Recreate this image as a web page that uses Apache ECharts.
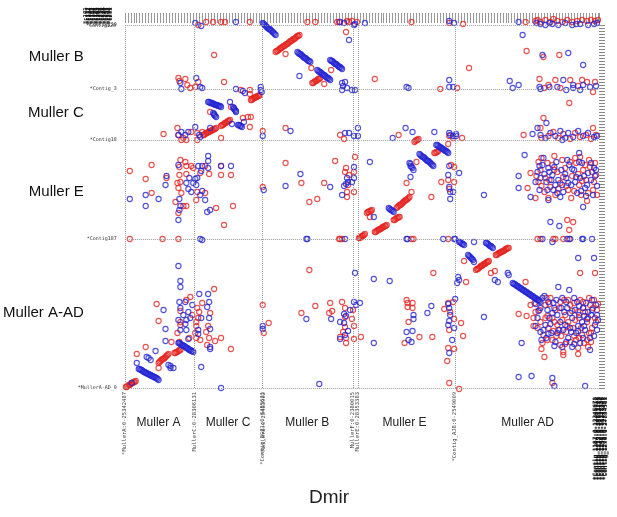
<!DOCTYPE html>
<html><head><meta charset="utf-8">
<script src="https://cdn.jsdelivr.net/npm/echarts@6/dist/echarts.min.js"></script>
<style>html,body{margin:0;padding:0;background:#fff}#c{width:617px;height:517px}</style>
</head><body><div id="c"></div>
<script>
// Muller element boundaries on the Dmir (x) axis and Dmel (y) axis, in plot units
const xBoundaries = [0, 70, 139, 230, 235, 333];
const yBoundaries = [0, 149, 248, 299, 363];
const xTickValues = [0, 70, 138.6, 139.4, 229.4, 235, 332.6, 333.4];
const xTickLabels = ['*MullerA:0-25342487','MullerC:0-28306131','*Contig_BGZ1:0-3455621','*MullerB:0-25483902','MullerF:0-2380015','MullerE:0-28353383','*Contig_AJ8:0-2549009','MullerAD:0-38562419'];
const yTickValues = [0, 149, 248, 299, 363];
const yTickLabels = ['*MullerA-AD_0','*Contig187','*Contig18','*Contig_3','*Contig120'];
const colNames = ['Muller A','Muller C','Muller B','Muller E','Muller AD'];
const colCenters = [34, 104, 184, 282, 406];
const rowNames = ['Muller A-AD','Muller E','Muller C','Muller B'];
const rowCenters = [75, 196, 275, 331];
const topLeftLabels = ['*c101','*c117','*c122','*c134','*c145','*c152','*c168','*c171','*c189','*c193','*c204','*c216','*c228','*c231','*c240','*c247','*c255','*c262','*c270','*c281'];
const bottomRightLabels = ['*Contig_1187:0-12345678','*Contig_1204:0-23456712','*Contig_1219:0-34561278','*Contig_1233:0-45612783','*Contig_1248:0-56127834','*Contig_1256:0-61278345','*Contig_1271:0-12783456','*Contig_1290:0-27834561'];

// red = forward-strand matches, blue = reverse-strand matches  [Dmir position, Dmel position]
const redScattered = [
[74,363],[82,366],[89,366],[97,366],[101,366],[126,366],[184,366],[192,366],[214,366],[216,366],[224,367],[226,366],[229,367],[234,366],[289,366],[327,365],[341,364],[404,366],[414,367],[416,368],[419,366],[424,368],[429,366],[432,369],[436,367],[441,366],[446,368],[451,366],[456,367],[461,368],[466,367],[470,368],[474,367],[477,368],
[162,334],[188,320],[208,318],[201,304],[223,356],[90,333],[252,309],[347,320],[405,337],[422,331],[438,333],
[54,310],[55,307],[61,309],[63,303],[74,306],[71,301],[66,300],[100,306],[117,298],[126,298],[132,291],[318,299],[335,300],[418,309],[427,303],[434,308],[449,308],[461,308],[466,306],[472,296],[474,306],[448,285],[423,300],[439,300],[457,302],
[126,294],[107,281],[86,276],[124,271],[127,271],[119,270],[126,261],[97,250],[139,257],[162,260],
[39,254],[53,260],[54,253],[59,250],[57,248],[62,248],[67,256],[73,255],[73,248],[78,256],[217,253],[221,249],[276,253],[340,250],[327,252],[402,253],[422,270],[419,260],[472,260],[427,252],[432,256],[437,250],[442,254],[449,249],[454,255],[459,251],[465,253],[470,249],[475,253],[420,250],
[5,217],[21,209],[27,223],[27,195],[42,210],[56,228],[61,226],[55,221],[62,222],[67,222],[69,220],[81,222],[76,215],[85,214],[55,213],[62,214],[53,205],[56,206],[54,200],[57,195],[73,196],[81,195],[72,188],[51,186],[59,182],[62,182],[54,175],[92,180],[97,222],[107,213],[109,182],[100,163],[97,213],
[162,225],[178,205],[139,201],[186,186],[194,189],[201,205],[212,227],[232,231],[223,220],[222,216],[231,216],[226,213],[225,203],[224,196],[231,196],[224,191],
[247,171],[289,196],[309,191],[284,205],[294,226],[326,244],[331,250],
[329,223],[332,221],[319,206],[326,208],[327,199],[332,206],
[417,226],[409,215],[406,200],[414,190],[427,190],[446,168],[452,166],[448,158],[466,187],[419,218],[424,210],[431,223],[436,216],[439,205],[444,220],[447,198],[451,212],[455,225],[458,203],[462,218],[465,208],[469,221],[472,198],[475,213],[417,206],[423,196],[434,193],[441,228],[450,190],[460,193],[468,228],[473,206],[429,201],[454,230],
[415,212],[420,202],[426,225],[428,208],[433,218],[437,199],[442,211],[445,202],[449,226],[453,197],[457,214],[461,207],[464,223],[467,195],[471,216],[474,225],[476,193],[420,230],[433,232],[459,231],
[5,149],[38,149],[54,149],[216,149],[217,149],[219,149],[289,149],[291,149],[326,149],[416,149],[419,149],[432,149],[434,149],[442,149],[448,149],
[32,84],[34,67],[21,41],[12,34],[34,20],[55,46],[47,46],
[62,88],[66,91],[90,99],[78,85],[73,80],[56,77],[75,76],[86,75],[68,73],[56,66],[74,70],[72,66],[56,63],[72,62],[84,62],[53,55],[71,55],[82,56],[72,50],[76,48],[85,50],[91,47],[97,50],[83,43],[107,39],[65,50],
[139,83],[140,55],[145,65],[178,75],[186,118],[192,82],
[207,85],[209,77],[206,75],[219,86],[230,78],[222,80],[222,71],[229,69],[222,61],[220,56],[223,50],[217,51],[231,62],[231,49],[238,51],[223,45],
[284,88],[285,85],[290,85],[285,81],[290,80],[286,66],[297,51],[282,45],[310,51],[311,115],
[322,79],[326,85],[331,86],[328,76],[332,69],[327,58],[339,65],[341,52],[332,39],[326,40],[325,27],[327,5],[337,-1],
[342,127],[369,115],[373,117],[344,106],[404,106],[459,115],[474,115],
[397,74],[405,72],[423,31],[420,39],[442,36],[442,33],[457,34],[467,41],[457,40],[417,88],[424,83],[429,90],[434,78],[439,86],[444,73],[449,83],[454,68],[459,88],[464,76],[469,83],[474,70],[419,66],[427,60],[436,63],[445,56],[452,60],[461,53],[471,60],[476,78],[431,48],[439,43],[449,46],[466,48],[414,76],[422,53],[409,83],[457,76],[441,68],[431,70],[473,88],[466,66],[431,5],
[428,84],[447,88],[462,80],[437,58],[455,48],[470,55],[412,62],[426,72],[468,90],[451,77],
[413,85],[418,78],[425,90],[433,66],[438,80],[443,88],[447,66],[453,85],[458,70],[462,86],[467,70],[472,80],[477,84],[416,60],[424,70],[432,57],[440,52],[446,62],[453,52],[460,60],[468,55],[475,66],[421,45],[435,52],[444,44],[458,50],[463,45],[426,48],[470,46],[412,70]
];
// red collinear runs (syntenic blocks), each read as a dense row of circles
const redBlocks = [
[152,336],[153,337],[154,337],[155,338],[156,339],[157,340],[158,340],[159,341],[160,342],[161,342],[162,343],[163,344],[164,344],[165,345],[166,346],[167,347],[168,347],[169,348],[170,349],[171,349],[172,350],[173,351],[174,352],[175,352],[176,353],
[189,305],[190,305],[191,306],[192,307],[193,307],[194,308],[195,309],[196,309],[197,310],
[127,288],[128,288],[129,289],[130,290],[131,290],[132,291],[133,291],[134,292],[135,292],[136,293],
[97,262],[98,263],[99,263],[100,264],[101,265],[102,265],[103,266],[104,267],[105,267],[106,268],
[79,253],[80,253],[81,254],[82,255],[83,255],[84,256],[85,256],[86,257],[87,257],[88,258],[89,258],[90,259],[91,259],[92,260],
[236,150],[237,150],[238,151],[239,152],[240,152],[241,153],[242,154],
[252,156],[253,156],[254,157],[255,158],[256,158],[257,159],[258,159],[259,160],[260,161],[261,161],[262,162],[263,162],[264,163],
[271,168],[272,168],[273,169],[274,170],[275,170],[276,171],[277,171],
[274,180],[275,181],[276,182],[277,183],[278,183],[279,184],[280,185],[281,186],[282,187],[283,188],[284,188],[285,189],[286,190],[287,191],
[244,175],[245,176],[246,176],[247,177],[248,177],[249,178],
[312,235],[313,235],[314,236],[315,236],[316,237],[292,246],[293,247],[294,248],[295,248],[296,249],
[374,133],[375,133],[376,134],[377,135],[378,135],[379,136],[380,136],[381,137],[382,137],[383,138],[384,139],[385,139],[386,140],[387,140],
[354,118],[355,119],[356,119],[357,120],[358,121],[359,122],[360,122],[361,123],[362,124],[363,124],[364,125],[365,126],[366,126],[367,127],
[34,25],[35,26],[36,27],[37,28],[38,29],[39,29],[40,30],[41,31],[42,32],[43,33],[44,34],
[1,1],[2,1],[3,2],[4,3],[5,3],[6,4],[7,5],[8,5],[9,6],[10,6],[11,7],
[50,35],[51,35],[52,36],[53,36],[54,37],[55,38],[56,38]
];

const blueScattered = [
[71,365],[77,362],[112,366],[217,366],[221,365],[231,363],[232,364],[242,365],[327,367],[332,365],[397,366],[415,365],[419,364],[424,363],[428,365],[431,364],[437,363],[444,365],[451,363],[455,364],[459,364],[467,363],[473,364],[476,365],
[176,312],
[219,305],[220,302],[219,298],[222,306],[229,298],[232,298],[224,300],[226,348],
[401,353],[421,333],[447,335],[462,323],
[56,305],[57,299],[72,310],[76,301],[78,300],[112,299],[119,297],[121,295],[137,301],[137,298],[138,296],[284,301],[286,300],[327,308],[327,301],[331,301],[388,307],[391,300],[397,303],[418,301],[419,299],[428,301],[442,308],[436,301],[452,303],[452,300],[462,303],[469,301],[475,302],[445,298],[459,298],
[106,286],[120,266],[108,264],[86,260],[139,252],[167,257],
[57,256],[54,253],[61,253],[64,256],[71,261],[76,251],[75,253],[222,255],[226,255],[231,252],[235,260],[235,252],[270,250],[283,260],[290,256],[312,256],[327,255],[331,252],[334,254],[411,254],[416,260],[425,265],[419,253],[424,250],[429,255],[434,252],[439,257],[444,250],[447,255],[452,251],[457,257],[462,252],[467,255],[473,251],[476,252],[441,248],
[5,189],[21,193],[34,189],[21,182],[42,212],[41,203],[84,232],[84,227],[54,223],[74,222],[78,222],[77,217],[84,220],[65,210],[71,209],[73,210],[62,205],[69,205],[72,203],[64,199],[67,196],[78,197],[76,193],[81,188],[55,189],[56,182],[55,178],[54,168],[83,176],[86,178],[97,222],[107,222],
[177,214],[162,202],[140,198],[207,201],[247,226],[231,221],[224,210],[225,206],[223,204],[221,202],[229,206],[231,210],[219,193],
[251,171],[288,211],[328,253],[334,252],
[327,222],[326,213],[337,215],[327,201],[328,196],[331,196],[328,189],[362,193],
[403,233],[416,216],[397,212],[397,200],[409,191],[427,188],[429,166],[438,162],[462,181],[421,223],[425,206],[428,216],[432,198],[435,226],[437,208],[440,218],[442,196],[445,210],[448,223],[450,203],[453,218],[456,195],[459,210],[461,225],[464,200],[467,215],[470,208],[473,220],[476,202],[418,198],[422,230],[431,213],[439,191],[446,228],[454,206],[465,192],[474,212],[419,210],[434,203],[427,220],
[414,206],[418,222],[423,214],[426,198],[430,208],[433,221],[436,195],[441,203],[444,214],[447,205],[451,219],[455,211],[458,226],[460,197],[463,212],[466,203],[470,225],[472,193],[475,218],[458,235],
[76,149],[78,148],[183,149],[184,149],[222,149],[284,149],[285,149],[321,149],[332,149],[333,149],[421,149],[431,146],[446,149],[449,149],[461,149],[462,149],[471,149],
[54,122],[56,107],[56,101],[39,78],[41,59],[41,47],[31,37],[22,31],[24,30],[26,28],[12,25],[44,23],[46,22],[49,20],[46,20],[7,5],[77,21],[97,0],
[55,86],[75,94],[84,94],[85,86],[68,83],[61,86],[56,80],[64,76],[83,81],[59,73],[54,68],[62,68],[66,70],[77,70],[85,70],[61,64],[74,58],[86,59],[56,58],[62,58],[74,54],[64,49],[86,39],[86,41],
[139,62],[139,59],[183,69],[196,4],
[208,69],[231,86],[232,115],[233,83],[237,85],[227,78],[221,74],[223,72],[217,66],[221,65],[225,57],[222,53],[217,49],[251,109],[267,107],[251,45],
[291,73],[291,69],[284,56],[290,57],[286,48],[289,46],[305,75],[309,82],
[326,84],[333,89],[327,80],[328,73],[327,67],[326,63],[332,60],[330,48],[327,35],
[352,146],[336,111],[337,108],[335,105],[373,108],[376,106],[386,115],[387,113],
[437,101],[448,98],[457,130],[473,130],
[362,71],[400,45],[441,41],[451,41],[469,38],[421,90],[426,78],[432,85],[436,73],[441,90],[446,80],[451,70],[456,86],[461,66],[465,85],[470,73],[475,83],[477,68],[424,63],[430,55],[438,58],[447,50],[455,55],[464,58],[473,52],[419,56],[434,46],[459,45],[416,70],[444,63],[467,76],[428,70],[454,78],[474,63],[420,48],
[423,92],[433,80],[443,76],[458,82],[463,72],[471,88],[449,60],[439,66],[427,54],[457,62],
[414,84],[419,80],[427,86],[431,75],[435,88],[440,80],[445,86],[449,75],[453,90],[458,73],[462,80],[466,69],[471,78],[476,73],[414,62],[422,58],[429,64],[436,55],[442,58],[450,56],[457,57],[463,62],[469,50],[476,58],[425,50],[433,42],[445,46],[453,44],[462,50],[417,77],
[397,11],[410,12],[431,10],[433,2],[464,2]
];
const blueBlocks = [
[139,365],[140,364],[141,363],[142,362],[143,361],[144,360],[145,359],[146,359],[147,358],[148,357],[149,356],[150,355],[151,354],[152,353],
[174,336],[175,335],[176,334],[177,334],[178,333],[179,332],[180,331],[181,330],[182,330],[183,329],[184,328],[185,327],[186,327],[187,326],
[194,318],[195,317],[196,316],[197,316],[198,315],[199,314],[200,313],[201,313],[202,312],[203,311],[204,310],[205,310],[206,309],[207,308],
[207,328],[208,327],[209,327],[210,326],[211,325],[212,324],[213,324],[214,323],[215,322],[216,321],[217,321],[218,320],[219,319],
[84,286],[85,286],[86,285],[87,285],[88,285],[89,284],[90,284],[91,283],[92,283],[93,283],[94,282],[95,282],[96,282],[97,281],
[109,281],[110,280],[110,279],[111,278],[112,277],[112,276],
[89,275],[90,274],[90,273],[91,272],[92,271],
[114,263],[115,263],[116,262],[117,262],[118,261],
[297,234],[298,233],[299,232],[300,231],[301,231],[302,230],[303,229],[304,228],[305,227],[306,227],[307,226],[308,225],[309,224],[310,223],[311,222],
[314,243],[315,243],[316,242],[317,241],[318,241],[319,240],[320,239],[321,239],[322,238],[323,237],[324,237],[325,236],[326,235],
[287,225],[288,224],[288,222],[289,221],[290,220],[291,218],
[266,180],[267,179],[268,178],[269,178],[270,177],[271,176],
[14,19],[15,19],[16,18],[17,18],[18,17],[19,16],[20,16],[21,15],[22,15],[23,14],[24,14],[25,13],[26,13],[27,12],[28,12],[29,11],[30,11],[31,10],[32,10],[33,9],[34,8],
[54,45],[55,45],[56,44],[57,43],[58,43],[59,42],[60,42],[61,41],[62,40],[63,40],[64,39],[65,38],[66,38],[67,37],[68,37],[69,36],
[391,105],[392,104],[393,104],[394,103],[395,102],[396,102],[397,101],[398,100],[399,100],[400,99],[401,98],[402,98],[403,97],[404,96],[405,96],[406,95],[407,94],[408,94],[409,93],[410,92],[411,92],[412,91],[413,90],[414,90],[415,89],[416,88],[417,88],[418,87],[419,86],
[337,146],[338,146],[339,145],[340,144],[341,144],[342,143],
[346,133],[347,132],[348,131],[349,130],[350,129],[351,128],[352,126],
[364,145],[365,145],[366,144],[367,143],[368,142],[369,142],[370,141],[371,140]
];

const RED = '#e52420', BLUE = '#2424d4';
const X_MAX = 478, Y_MAX = 363;
const chart = echarts.init(document.getElementById('c'), null, {renderer: 'canvas'});

const gridLines = xBoundaries.map(v => ({xAxis: v})).concat(yBoundaries.map(v => ({yAxis: v})));

const graphics = [];
topLeftLabels.forEach((t, i) => {
  graphics.push({type: 'text', x: 86 + i * 1.3, y: 24, rotation: Math.PI / 2,
    style: {text: t, font: 'bold 5.5px "DejaVu Sans Mono"', fill: '#111', textAlign: 'left', textVerticalAlign: 'middle'}});
});
graphics.push({type: 'text', x: 86, y: 26, style: {text: '*Contig120', font: '5px "DejaVu Sans Mono"', fill: '#333', textVerticalAlign: 'middle'}});
bottomRightLabels.forEach((t, i) => {
  graphics.push({type: 'text', x: 595 + i * 1.5, y: 480, rotation: Math.PI / 2,
    style: {text: t, font: 'bold 6px "DejaVu Sans Mono"', fill: '#111', textAlign: 'left', textVerticalAlign: 'middle'}});
});

const circleStyle = c => ({color: 'rgba(255,255,255,0)', borderColor: c, borderWidth: 1.1});
const dots = (name, data, c) => ({type: 'scatter', name, xAxisIndex: 0, yAxisIndex: 0, data, clip: false, silent: true,
  symbol: 'circle', symbolSize: 5.2, itemStyle: circleStyle(c)});

chart.setOption({
  animation: false,
  backgroundColor: '#fff',
  title: {text: 'Dmir', left: 304, top: 483, textStyle: {fontSize: 19, fontWeight: 'normal', color: '#222', fontFamily: 'Liberation Sans'}},
  grid: {left: 121, right: 18, top: 25, bottom: 129},
  graphic: graphics,
  xAxis: [
    {type: 'value', min: 0, max: X_MAX, position: 'bottom',
     axisLine: {show: false, onZero: false}, axisTick: {show: false}, splitLine: {show: false},
     axisLabel: {customValues: xTickValues, rotate: 90, margin: 4, fontSize: 5.5, color: '#444', fontFamily: 'DejaVu Sans Mono',
       formatter: v => xTickLabels[xTickValues.indexOf(v)] || ''}},
    {type: 'value', min: 0, max: X_MAX, position: 'bottom',
     axisLine: {show: false, onZero: false}, axisTick: {show: false}, splitLine: {show: false},
     axisLabel: {customValues: colCenters, margin: 29, fontSize: 12, color: '#222', fontFamily: 'Liberation Sans',
       formatter: v => colNames[colCenters.indexOf(v)] || ''}},
    {type: 'value', min: 0, max: X_MAX, interval: 3, position: 'top', offset: 2,
     axisLine: {show: false, onZero: false}, splitLine: {show: false}, axisLabel: {show: false},
     axisTick: {show: true, length: 10, lineStyle: {color: '#999', width: 1}}}
  ],
  yAxis: [
    {type: 'value', min: 0, max: Y_MAX, position: 'left',
     axisLine: {show: false, onZero: false}, axisTick: {show: false}, splitLine: {show: false},
     axisLabel: {customValues: yTickValues, margin: 8, fontSize: 5, color: '#333', fontFamily: 'DejaVu Sans Mono',
       formatter: v => yTickLabels[yTickValues.indexOf(v)] || ''}},
    {type: 'value', min: 0, max: Y_MAX, position: 'left',
     axisLine: {show: false, onZero: false}, axisTick: {show: false}, splitLine: {show: false},
     axisLabel: {customValues: rowCenters, margin: 41, fontSize: 15, color: '#111', fontFamily: 'Liberation Sans',
       formatter: v => rowNames[rowCenters.indexOf(v)] || ''}},
    {type: 'value', min: 0, max: Y_MAX, interval: 3, position: 'right',
     axisLine: {show: false, onZero: false}, splitLine: {show: false}, axisLabel: {show: false},
     axisTick: {show: true, length: 6, lineStyle: {color: '#888', width: 1}}}
  ],
  series: [
    {type: 'scatter', xAxisIndex: 0, yAxisIndex: 0, data: [], silent: true,
     markLine: {silent: true, symbol: ['none', 'none'], label: {show: false},
       lineStyle: {type: 'dotted', color: '#9a9a9a', width: 1}, data: gridLines}},
    dots('red', redScattered, RED),
    dots('redBlocks', redBlocks, RED),
    dots('blue', blueScattered, BLUE),
    dots('blueBlocks', blueBlocks, BLUE)
  ]
});
</script></body></html>
